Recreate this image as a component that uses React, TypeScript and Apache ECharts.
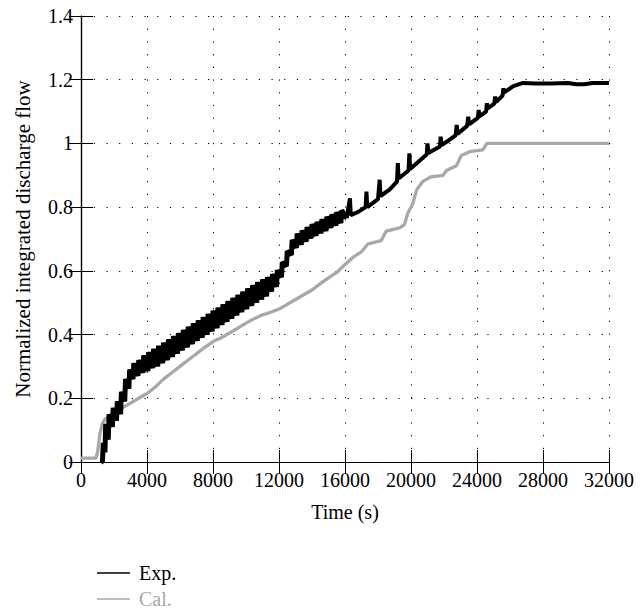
import React, { useEffect, useRef } from "react";
import * as echarts from "echarts";

const xTicks = { min: 0, max: 32000, interval: 4000 };
const yTicks = { min: 0, max: 1.4, interval: 0.2 };
const seriesNames = ["Exp.", "Cal."];
const xAxisName = "Time (s)";
const yAxisName = "Normalized integrated discharge flow";

const expEarlyPoints: [number, number][] = [
  [1250, 0], [1300, 0.0], [1350, 0.06], [1450, 0.03], [1500, 0.12], [1650, 0.07], [1700, 0.15],
  [1900, 0.11], [1950, 0.17], [2150, 0.13], [2200, 0.19], [2400, 0.15], [2450, 0.22],
  [2650, 0.19], [2700, 0.26], [2900, 0.23], [2950, 0.29], [3150, 0.26], [3200, 0.31],
  [3450, 0.27], [3500, 0.32], [3750, 0.28], [3800, 0.335], [4050, 0.285], [4100, 0.345],
  [4350, 0.295], [4400, 0.355], [4650, 0.3], [4700, 0.365], [4950, 0.31], [5000, 0.375],
  [5250, 0.32], [5300, 0.385], [5550, 0.33], [5600, 0.395], [5850, 0.34], [5900, 0.405],
  [6150, 0.35], [6200, 0.415], [6450, 0.36], [6500, 0.425], [6750, 0.37], [6800, 0.435],
  [7050, 0.38], [7100, 0.445], [7350, 0.39], [7400, 0.455], [7650, 0.4], [7700, 0.465],
  [7950, 0.41], [8000, 0.475], [8250, 0.42], [8300, 0.485], [8550, 0.43], [8600, 0.495],
  [8850, 0.44], [8900, 0.505], [9150, 0.45], [9200, 0.515], [9450, 0.46], [9500, 0.525],
  [9750, 0.47], [9800, 0.535], [10050, 0.48], [10100, 0.545], [10350, 0.49], [10400, 0.555],
  [10650, 0.5], [10700, 0.565], [10950, 0.51], [11000, 0.573], [11250, 0.52], [11300, 0.58],
  [11550, 0.535], [11600, 0.59], [11850, 0.55], [11900, 0.602], [12150, 0.58], [12200, 0.627],
  [12450, 0.615], [12500, 0.662], [12750, 0.65], [12800, 0.697], [13050, 0.672], [13100, 0.717],
  [13350, 0.682], [13400, 0.727], [13650, 0.692], [13700, 0.737], [13950, 0.702], [14000, 0.747],
  [14250, 0.71], [14300, 0.754], [14550, 0.718], [14600, 0.762], [14850, 0.725], [14900, 0.77],
  [15150, 0.735], [15200, 0.777], [15450, 0.742], [15500, 0.784], [15750, 0.75], [15800, 0.79],
  [16100, 0.765],
];

// Experimental (black), sparse spikes and plateau
const expLatePoints: [number, number][] = [
  [16100, 0.765], [16300, 0.828], [16350, 0.775], [16800, 0.785], [17250, 0.8], [17300, 0.849],
  [17350, 0.8], [18000, 0.825], [18100, 0.886], [18150, 0.835], [18700, 0.855], [19150, 0.88],
  [19200, 0.938], [19250, 0.89], [19850, 0.915], [19900, 0.969], [19950, 0.92], [20500, 0.945],
  [20950, 0.965], [21000, 1.0], [21050, 0.97], [21750, 0.99], [21800, 1.021], [21850, 0.995],
  [22300, 1.01], [22700, 1.025], [22770, 1.058], [22820, 1.03], [23400, 1.055], [23470, 1.084],
  [23520, 1.06], [24050, 1.08], [24100, 1.105], [24150, 1.085], [24550, 1.1], [24600, 1.126],
  [24650, 1.11], [25050, 1.125], [25100, 1.147], [25150, 1.13], [25550, 1.15], [25600, 1.173],
  [25650, 1.16], [26200, 1.18], [26800, 1.19], [27500, 1.188], [28500, 1.188], [29500, 1.19],
  [30000, 1.186], [30500, 1.186], [31000, 1.19], [32000, 1.19],
];

// Calculated (gray)
const calPoints: [number, number][] = [
  [0, 0.012], [900, 0.012], [1000, 0.03], [1150, 0.09], [1300, 0.12], [1450, 0.135],
  [1700, 0.14], [2000, 0.155], [2500, 0.17], [3000, 0.185], [3500, 0.2], [4000, 0.215],
  [4500, 0.235], [5000, 0.26], [5500, 0.28], [6000, 0.3], [6500, 0.32], [7000, 0.34],
  [7500, 0.36], [8000, 0.378], [8500, 0.39], [9000, 0.405], [9500, 0.42], [10000, 0.436],
  [10500, 0.45], [11000, 0.462], [11500, 0.47], [12000, 0.48], [12500, 0.495], [13000, 0.51],
  [13500, 0.525], [14000, 0.54], [14500, 0.56], [15000, 0.578], [15500, 0.595], [16000, 0.62],
  [16500, 0.643], [17000, 0.66], [17400, 0.685], [18200, 0.695], [18500, 0.725], [19300, 0.735],
  [19600, 0.745], [19800, 0.78], [20100, 0.81], [20350, 0.855], [20700, 0.88], [21200, 0.895],
  [21950, 0.9], [22150, 0.915], [22750, 0.93], [23050, 0.962], [23550, 0.974], [24350, 0.98],
  [24600, 1.0], [32000, 1.0],
];

const FONT = "Liberation Serif";
const GRAY = "#a8a8a8";

export default function App() {
  const ref = useRef<HTMLDivElement>(null);
  useEffect(() => {
    if (!ref.current) return;
    const chart = echarts.init(ref.current, null, { renderer: "svg" });
    const tickCommon = { inside: true, length: 12, lineStyle: { color: "#000", width: 1 } };
    const lineCommon = { show: true, lineStyle: { color: "#000", width: 1.2 } };
    const dotted = {
      show: true,
      lineStyle: { color: "#000", width: 1, type: [1.2, 11.5] as any },
    };
    chart.setOption({
      animation: false,
      backgroundColor: "#fff",
      textStyle: { fontFamily: FONT },
      grid: { left: 81, top: 16, right: 34, bottom: 151 },
      legend: {
        orient: "vertical",
        left: 97,
        top: 563,
        height: 80,
        padding: 0,
        itemWidth: 33,
        itemHeight: 1.6,
        itemGap: 6,
        icon: "rect",
        textStyle: { fontFamily: FONT, fontSize: 20, lineHeight: 20, padding: [0, 0, 0, 4] },
        data: [
          { name: seriesNames[0], textStyle: { color: "#000" } },
          { name: seriesNames[1], textStyle: { color: GRAY } },
        ],
      },
      xAxis: [
        {
          type: "value",
          ...xTicks,
          name: xAxisName,
          nameLocation: "middle",
          nameGap: 40,
          nameTextStyle: { fontFamily: FONT, fontSize: 20, color: "#000" },
          axisLine: lineCommon,
          axisTick: tickCommon,
          axisLabel: {
            fontFamily: FONT,
            fontSize: 20,
            color: "#000",
            margin: 8,
            formatter: (v: number) => String(v),
          },
          splitLine: dotted,
        },
        {
          type: "value",
          position: "top",
          ...xTicks,
          axisLine: lineCommon,
          axisTick: tickCommon,
          axisLabel: { show: false },
          splitLine: { show: false },
        },
      ],
      yAxis: [
        {
          type: "value",
          ...yTicks,
          name: yAxisName,
          nameLocation: "middle",
          nameGap: 48,
          nameTextStyle: { fontFamily: FONT, fontSize: 21, color: "#000" },
          axisLine: lineCommon,
          axisTick: tickCommon,
          axisLabel: {
            fontFamily: FONT,
            fontSize: 20,
            color: "#000",
            margin: 8,
            formatter: (v: number) => String(Math.round(v * 10) / 10),
          },
          splitLine: dotted,
        },
        {
          type: "value",
          position: "right",
          ...yTicks,
          axisLine: lineCommon,
          axisTick: tickCommon,
          axisLabel: { show: false },
          splitLine: { show: false },
        },
      ],
      series: [
        {
          name: seriesNames[1],
          type: "line",
          data: calPoints,
          showSymbol: false,
          symbol: "none",
          lineStyle: { color: GRAY, width: 3.3 },
          itemStyle: { color: GRAY },
          z: 2,
        },
        {
          name: seriesNames[0],
          type: "line",
          data: expEarlyPoints,
          showSymbol: false,
          symbol: "none",
          lineStyle: { color: "#000", width: 5 },
          itemStyle: { color: "#000" },
          z: 3,
        },
        {
          name: seriesNames[0],
          type: "line",
          data: expLatePoints,
          showSymbol: false,
          symbol: "none",
          lineStyle: { color: "#000", width: 4 },
          itemStyle: { color: "#000" },
          z: 3,
        },
      ],
    });
    return () => chart.dispose();
  }, []);
  return (
    <div
      ref={ref}
      style={{ position: "absolute", left: 0, top: 0, width: 643, height: 613 }}
    />
  );
}
